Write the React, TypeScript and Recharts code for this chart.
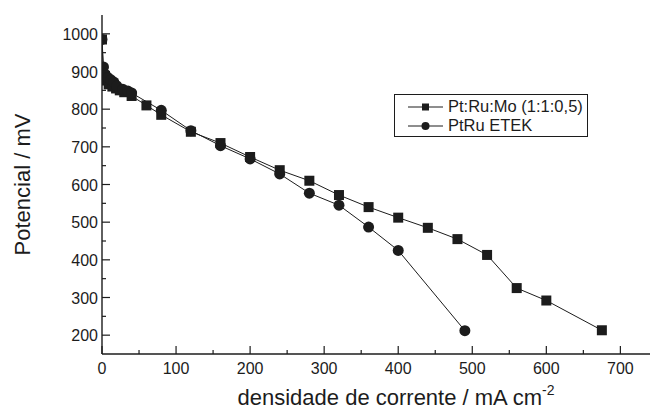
import React from 'react';
import { LineChart, Line, XAxis, YAxis, Label } from 'recharts';

// Pt:Ru:Mo (1:1:0,5) — [current density mA cm-2, potential mV]
const moX = [0, 2, 5, 9, 14, 19, 24, 30, 40, 60, 80, 120, 160, 200, 240, 280, 320, 360, 400, 440, 480, 520, 560, 600, 675];
const moY = [985, 888, 876, 866, 860, 855, 850, 845, 835, 810, 785, 740, 710, 673, 638, 610, 572, 540, 512, 485, 455, 413, 325, 292, 213];

// PtRu ETEK
const etX = [0, 2, 4, 8, 12, 16, 20, 28, 35, 40, 80, 120, 160, 200, 240, 280, 320, 360, 400, 490];
const etY = [985, 912, 893, 884, 878, 872, 862, 853, 848, 843, 797, 743, 703, 668, 628, 577, 545, 487, 425, 212];

const xTicks = [0, 50, 100, 150, 200, 250, 300, 350, 400, 450, 500, 550, 600, 650, 700];
const yTicks = [200, 250, 300, 350, 400, 450, 500, 550, 600, 650, 700, 750, 800, 850, 900, 950, 1000];

const seriesNames = ['Pt:Ru:Mo (1:1:0,5)', 'PtRu ETEK'];

const moData = moX.map((x, i) => ({ x, y: moY[i] }));
const etData = etX.map((x, i) => ({ x, y: etY[i] }));

const INK = '#1c1c1c';
const FONT = '"Liberation Sans", Arial, sans-serif';

const SquareDot = (props: any) => {
  const { cx, cy } = props;
  if (cx == null || cy == null) return null;
  return <rect x={cx - 5} y={cy - 5} width={10} height={10} fill={INK} />;
};

const CircleDot = (props: any) => {
  const { cx, cy } = props;
  if (cx == null || cy == null) return null;
  return <circle cx={cx} cy={cy} r={5.5} fill={INK} />;
};

const XTick = (props: any) => {
  const { x, y, payload } = props;
  const major = payload.value % 100 === 0;
  return (
    <g>
      <line x1={x} y1={y} x2={x} y2={y - (major ? 8 : 4)} stroke={INK} strokeWidth={1.2} />
      {major && (
        <text x={x} y={y + 20} textAnchor="middle" fontSize={16} fill={INK} fontFamily={FONT}>
          {payload.value}
        </text>
      )}
    </g>
  );
};

const YTick = (props: any) => {
  const { x, y, payload } = props;
  const major = payload.value % 100 === 0;
  return (
    <g>
      <line x1={x} y1={y} x2={x + (major ? 8 : 4)} y2={y} stroke={INK} strokeWidth={1.2} />
      {major && (
        <text x={x - 4} y={y + 6} textAnchor="end" fontSize={16} fill={INK} fontFamily={FONT}>
          {payload.value}
        </text>
      )}
    </g>
  );
};

const LegendBox = () => (
  <div
    style={{
      position: 'absolute',
      left: 394,
      top: 94,
      width: 194,
      height: 43,
      boxSizing: 'border-box',
      border: `1px solid ${INK}`,
      background: '#fff',
      fontFamily: FONT,
      fontSize: 16.5,
      color: INK,
      paddingTop: 2,
    }}
  >
    {seriesNames.map((name, i) => (
      <div key={name} style={{ display: 'flex', alignItems: 'center', height: 19 }}>
        <svg width={53} height={19} style={{ flex: 'none' }}>
          <line x1={13} y1={10} x2={48} y2={10} stroke={INK} strokeWidth={1} />
          {i === 0 ? (
            <rect x={27} y={6.5} width={7} height={7} fill={INK} />
          ) : (
            <circle cx={30.5} cy={10} r={4} fill={INK} />
          )}
        </svg>
        <span style={{ whiteSpace: 'nowrap' }}>{name}</span>
      </div>
    ))}
  </div>
);

export default function App() {
  return (
    <div style={{ position: 'absolute', left: 0, top: 0, width: 651, height: 412, background: '#fff' }}>
      <LineChart width={651} height={412} margin={{ top: 15, right: 1, bottom: 0, left: 0 }}>
        <XAxis
          type="number"
          dataKey="x"
          domain={[0, 740]}
          ticks={xTicks}
          interval={0}
          height={58}
          tickSize={0}
          tickMargin={0}
          tickLine={false}
          axisLine={{ stroke: INK, strokeWidth: 1.4 }}
          tick={<XTick />}
          allowDataOverflow
        >
          <Label
            content={(p: any) => {
              const vb = p.viewBox;
              return (
                <text
                  x={vb.x + vb.width / 2 + 20}
                  y={vb.y + 51}
                  textAnchor="middle"
                  fontSize={22}
                  fill={INK}
                  fontFamily={FONT}
                >
                  <tspan>densidade de corrente / mA cm</tspan>
                  <tspan dy={-10} fontSize={14}>-2</tspan>
                </text>
              );
            }}
          />
        </XAxis>
        <YAxis
          type="number"
          dataKey="y"
          domain={[150, 1050]}
          ticks={yTicks}
          interval={0}
          width={102}
          tickSize={0}
          tickMargin={0}
          tickLine={false}
          axisLine={{ stroke: INK, strokeWidth: 1.4 }}
          tick={<YTick />}
          allowDataOverflow
        >
          <Label
            content={(p: any) => {
              const vb = p.viewBox;
              const cx = vb.x + 22;
              const cy = vb.y + vb.height / 2;
              return (
                <text
                  x={cx}
                  y={cy}
                  transform={`rotate(-90, ${cx}, ${cy})`}
                  textAnchor="middle"
                  dominantBaseline="central"
                  fontSize={22}
                  fill={INK}
                  fontFamily={FONT}
                >
                  Potencial / mV
                </text>
              );
            }}
          />
        </YAxis>
        <Line
          data={moData}
          dataKey="y"
          name={seriesNames[0]}
          stroke={INK}
          strokeWidth={1}
          dot={<SquareDot />}
          activeDot={false}
          isAnimationActive={false}
        />
        <Line
          data={etData}
          dataKey="y"
          name={seriesNames[1]}
          stroke={INK}
          strokeWidth={1}
          dot={<CircleDot />}
          activeDot={false}
          isAnimationActive={false}
        />
      </LineChart>
      <LegendBox />
    </div>
  );
}
